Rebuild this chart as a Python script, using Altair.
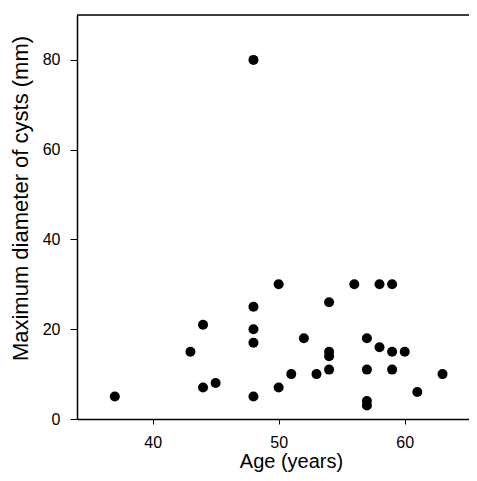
import altair as alt
import pandas as pd

age = [37, 43, 44, 44, 45, 48, 48, 48, 48, 48, 50, 50, 51, 52, 53, 54, 54, 54, 54,
       56, 57, 57, 57, 57, 58, 58, 59, 59, 59, 60, 61, 63]
diameter = [5, 15, 21, 7, 8, 80, 25, 20, 17, 5, 30, 7, 10, 18, 10, 26, 15, 14, 11,
            30, 18, 11, 4, 3, 30, 16, 30, 15, 11, 15, 6, 10]

x_ticks = [40, 50, 60]
y_ticks = [0, 20, 40, 60, 80]
x_domain = [34, 65.1]
y_domain = [0, 90]

df = pd.DataFrame({"age": age, "diameter": diameter})
FONT = "Liberation Sans"

xscale = alt.Scale(domain=x_domain, nice=False, zero=False)
yscale = alt.Scale(domain=y_domain, nice=False)

points = alt.Chart(df).mark_circle(size=100, color="black", opacity=1).encode(
    x=alt.X("age:Q", scale=xscale,
            axis=alt.Axis(title="Age (years)", values=x_ticks, grid=False,
                          domainColor="black", domainWidth=1.5, tickColor="black",
                          tickSize=5, labelPadding=10, labelFontSize=16, labelColor="black",
                          labelFont=FONT, titleFont=FONT, titleFontSize=20,
                          titleFontWeight="normal", titleColor="black",
                          titleX=214, titleY=48, titleBaseline="alphabetic")),
    y=alt.Y("diameter:Q", scale=yscale,
            axis=alt.Axis(title="Maximum diameter of cysts (mm)", values=y_ticks, grid=False,
                          domainColor="black", domainWidth=1.5, tickColor="black",
                          tickSize=7, labelPadding=10, labelFontSize=16, labelColor="black",
                          labelFont=FONT, titleFont=FONT, titleFontSize=22,
                          titleFontWeight="normal", titleColor="black",
                          titleAngle=270, titleX=-57, titleY=183,
                          titleBaseline="middle", titleAlign="center")),
)

top_line = alt.Chart(pd.DataFrame({"x": [x_domain[0]], "x2": [x_domain[1]], "y": [y_domain[1]]})).mark_rule(
    color="black", strokeWidth=1.5).encode(
    x=alt.X("x:Q", scale=xscale), x2="x2:Q", y=alt.Y("y:Q", scale=yscale))

chart = alt.layer(points, top_line).properties(
    width=392, height=404,
    padding={"left": 69, "top": 7, "right": 0, "bottom": 54},
    autosize=alt.AutoSizeParams(type="none"),
).configure_view(stroke=None).configure(background="white")

chart.save("out.html", embed_options={"renderer": "svg", "actions": False})
